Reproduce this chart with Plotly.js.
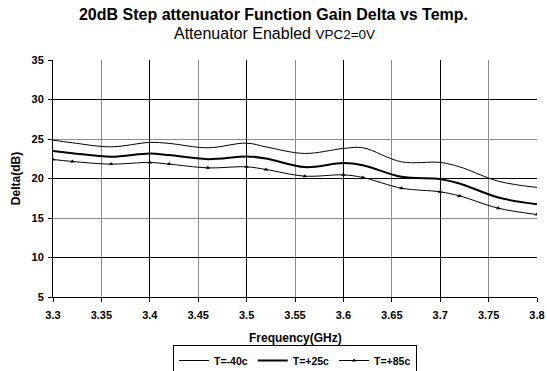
<!DOCTYPE html>
<html>
<head>
<meta charset="utf-8">
<script src="https://cdn.plot.ly/plotly-3.0.1.min.js"></script>
<style>html,body{margin:0;padding:0;background:#fff;}#chart{width:547px;height:371px;}</style>
</head>
<body>
<div id="chart"></div>
<script>
const freq = [3.30, 3.32, 3.36, 3.40, 3.42, 3.46, 3.50, 3.52, 3.56, 3.60, 3.62, 3.66, 3.70, 3.72, 3.76, 3.80];
const tm40 = [24.86, 24.52, 24.01, 24.57, 24.44, 23.89, 24.48, 24.0, 23.17, 23.8, 23.89, 22.11, 22.03, 21.48, 19.66, 18.87];
const tp25 = [23.47, 23.21, 22.75, 23.17, 22.96, 22.45, 22.79, 22.54, 21.44, 21.95, 21.69, 20.21, 19.92, 19.37, 17.6, 16.75];
const tp85 = [22.41, 22.16, 21.82, 22.03, 21.82, 21.35, 21.48, 21.14, 20.30, 20.46, 20.13, 18.78, 18.31, 17.8, 16.24, 15.44];
const seriesNames = ['T=-40c', 'T=+25c', 'T=+85c'];

const F = '"Liberation Sans", Arial, sans-serif';
const traces = [
  {x: freq, y: tm40, name: seriesNames[0], mode: 'lines', line: {color: '#000', width: 1, shape: 'spline'}},
  {x: freq, y: tp25, name: seriesNames[1], mode: 'lines', line: {color: '#000', width: 2, shape: 'spline'}},
  {x: freq, y: tp85, name: seriesNames[2], mode: 'lines+markers', line: {color: '#000', width: 1, shape: 'spline'},
   marker: {symbol: 'triangle-up', size: 4, color: '#000'}}
];
const layout = {
  width: 547, height: 371,
  margin: {l: 53, r: 10, t: 60, b: 74, autoexpand: false},
  paper_bgcolor: '#fff', plot_bgcolor: '#fff',
  font: {family: F, color: '#000'},
  title: {
    text: '<b>20dB Step attenuator Function Gain Delta vs Temp.</b>',
    font: {family: F, size: 16, color: '#000'},
    x: 0.5, xanchor: 'center', xref: 'container', y: 1 - 14.5 / 371, yanchor: 'middle', yref: 'container'
  },
  annotations: [{
    text: '<span style="font-size:16px">Attenuator Enabled </span><span style="font-size:13.5px">VPC2=0V</span>',
    xref: 'paper', yref: 'paper', x: (274 - 53) / 484, y: (297 - 33) / 237,
    xanchor: 'center', yanchor: 'middle', showarrow: false,
    font: {family: F, size: 16, color: '#000'}
  }, {
    text: '<b>Frequency(GHz)</b>',
    xref: 'paper', yref: 'paper', x: 0.5, y: (297 - 338) / 237,
    xanchor: 'center', yanchor: 'middle', showarrow: false,
    font: {family: F, size: 12, color: '#000'}
  }],
  xaxis: {
    range: [3.3, 3.8], dtick: 0.05, tick0: 3.3,
    showgrid: true, gridcolor: '#8c8c8c', gridwidth: 1,
    showline: true, linecolor: '#000', linewidth: 1,
    ticks: 'outside', ticklen: 4, tickcolor: '#000', ticklabelstandoff: 4,
    tickfont: {family: F, size: 11, color: '#000', weight: 'bold'},
    zeroline: false
  },
  yaxis: {
    range: [5, 35], dtick: 5, tick0: 5,
    showgrid: true, gridcolor: '#8c8c8c', gridwidth: 1,
    showline: true, linecolor: '#000', linewidth: 1,
    ticks: 'outside', ticklen: 4, tickcolor: '#000', ticklabelstandoff: 2,
    tickfont: {family: F, size: 11, color: '#000', weight: 'bold'},
    zeroline: false,
    title: {text: '<b>Delta(dB)</b>', font: {family: F, size: 12, color: '#000'}, standoff: 8}
  },
  xaxis2: {
    overlaying: 'x', anchor: 'y2', matches: 'x', range: [3.3, 3.8], dtick: 0.1, tick0: 3.3,
    showgrid: true, gridcolor: '#000', gridwidth: 1, showticklabels: false, ticks: '', zeroline: false, showline: false
  },
  yaxis2: {
    overlaying: 'y', anchor: 'x2', matches: 'y', range: [5, 35], dtick: 10, tick0: 0,
    showgrid: true, gridcolor: '#000', gridwidth: 1, showticklabels: false, ticks: '', zeroline: false, showline: false
  },
  showlegend: true,
  legend: {
    orientation: 'h', x: 0.5, xanchor: 'center', yref: 'container', y: 1 - 345 / 371, yanchor: 'top',
    bordercolor: '#000', borderwidth: 1, bgcolor: '#fff',
    font: {family: F, size: 10.5, color: '#000', weight: 'bold'},
    itemwidth: 30, tracegroupgap: 0
  }
};
traces.push({x: [], y: [], xaxis: 'x2', yaxis: 'y2', showlegend: false, hoverinfo: 'skip'});
Plotly.newPlot('chart', traces, layout, {displayModeBar: false, staticPlot: true});
</script>
</body>
</html>
